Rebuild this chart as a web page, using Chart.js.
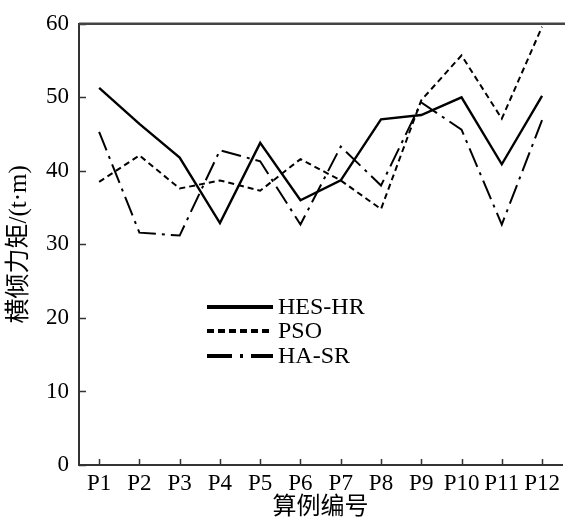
<!DOCTYPE html>
<html>
<head>
<meta charset="utf-8">
<script src="https://cdn.jsdelivr.net/npm/chart.js@4"></script>
<style>
  html, body { margin: 0; padding: 0; background: #fff; }
  #wrap { width: 565px; height: 526px; }
</style>
</head>
<body>
<div id="wrap"><canvas id="chart" width="565" height="526"></canvas></div>
<script>
// categories and series
const cases = ["P1", "P2", "P3", "P4", "P5", "P6", "P7", "P8", "P9", "P10", "P11", "P12"];
const hesHr = [51.3, 46.4, 41.8, 32.9, 43.8, 36.0, 38.7, 47.0, 47.6, 50.0, 40.9, 50.2];
const pso = [38.5, 42.1, 37.6, 38.7, 37.3, 41.6, 38.7, 34.8, 49.6, 55.7, 47.1, 59.6];
const haSr = [45.3, 31.6, 31.2, 42.8, 41.3, 32.7, 43.3, 38.0, 49.3, 45.6, 32.7, 46.9];
const yTicks = [0, 10, 20, 30, 40, 50, 60];

const serif = "'Liberation Serif', 'Times New Roman', serif";
const cjk = "'Liberation Serif', 'Noto Sans CJK SC', serif";

// inward tick marks, top frame line and the in-plot legend
const frame = {
  id: "frame",
  afterDraw(chart) {
    const { ctx, chartArea: a, scales } = chart;
    ctx.save();
    ctx.strokeStyle = "#333";
    ctx.lineWidth = 1.5;
    ctx.beginPath();
    yTicks.forEach((v) => {
      const y = Math.round(scales.y.getPixelForValue(v)) + 0.5;
      ctx.moveTo(a.left, y);
      ctx.lineTo(a.left + 7, y);
    });
    cases.forEach((c, i) => {
      const x = Math.round(scales.x.getPixelForValue(i)) + 0.5;
      ctx.moveTo(x, a.bottom);
      ctx.lineTo(x, a.bottom - 6);
    });
    ctx.stroke();

    ctx.lineWidth = 2.5;
    ctx.strokeStyle = "#444";
    ctx.beginPath();
    ctx.moveTo(a.left, a.top);
    ctx.lineTo(chart.width, a.top);
    ctx.stroke();

    // legend
    const rows = [307, 331, 356];
    const dashes = [[], [7, 4], [25, 8, 3, 8]];
    ctx.font = "24px " + serif;
    ctx.fillStyle = "#000";
    ctx.textBaseline = "middle";
    chart.data.datasets.forEach((ds, i) => {
      ctx.strokeStyle = "#000";
      ctx.lineWidth = 4;
      ctx.setLineDash(dashes[i]);
      ctx.beginPath();
      ctx.moveTo(207, rows[i]);
      ctx.lineTo(273, rows[i]);
      ctx.stroke();
      ctx.setLineDash([]);
      ctx.fillText(ds.label, 278, rows[i] + 1);
    });
    ctx.restore();
  },
};

new Chart(document.getElementById("chart"), {
  type: "line",
  data: {
    labels: cases,
    datasets: [
      { label: "HES-HR", data: hesHr, borderColor: "#000", borderWidth: 2.4 },
      { label: "PSO", data: pso, borderColor: "#000", borderWidth: 2, borderDash: [6, 4] },
      { label: "HA-SR", data: haSr, borderColor: "#000", borderWidth: 2, borderDash: [20, 6, 3, 6] },
    ],
  },
  options: {
    responsive: false,
    animation: false,
    elements: { point: { radius: 0 }, line: { tension: 0 } },
    layout: { padding: { top: 15, right: 1 } },
    plugins: { legend: { display: false }, tooltip: { enabled: false } },
    scales: {
      x: {
        offset: true,
        grid: { display: false, drawTicks: false },
        border: { display: true, color: "#333", width: 2 },
        ticks: { color: "#000", padding: 5, font: { family: serif, size: 23 }, maxRotation: 0, autoSkip: false },
        title: { display: true, text: "算例编号", color: "#000", padding: { top: 8 }, font: { family: cjk, size: 24 } },
        afterFit: (s) => { s.height = 61; },
      },
      y: {
        min: 0,
        max: 60,
        grid: { display: false, drawTicks: false },
        border: { display: true, color: "#333", width: 2 },
        ticks: { stepSize: 10, color: "#000", padding: 10, font: { family: serif, size: 23 } },
        title: { display: true, text: "横倾力矩/(t·m)", color: "#000", padding: { bottom: 0 }, font: { family: cjk, size: 25 } },
        afterFit: (s) => { s.width = 79; },
      },
    },
  },
  plugins: [frame],
});
</script>
</body>
</html>
